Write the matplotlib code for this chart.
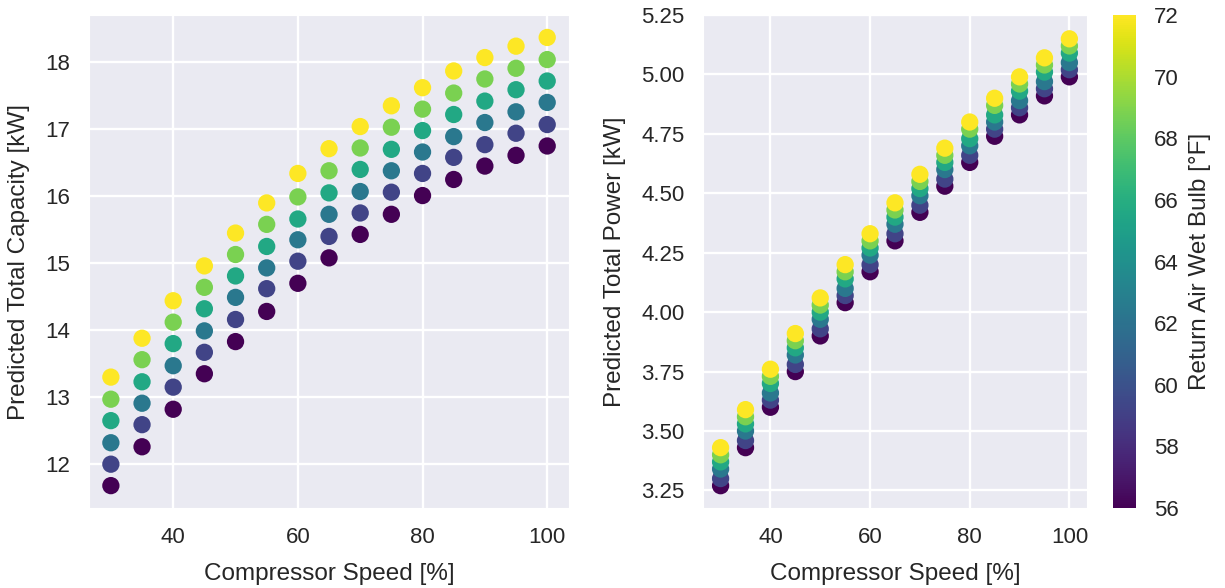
import numpy as np
import matplotlib
matplotlib.use("Agg")
import matplotlib.pyplot as plt
import seaborn as sns

# compressor speed [%]
speed = [30, 35, 40, 45, 50, 55, 60, 65, 70, 75, 80, 85, 90, 95, 100]
# return air wet bulb levels [F]
wet_bulb = [56, 59.2, 62.4, 65.6, 68.8, 72]

# predicted total capacity [kW], one row per wet bulb level
capacity = [
    [11.68, 12.26, 12.82, 13.35, 13.83, 14.28, 14.70, 15.08, 15.43, 15.73, 16.01, 16.25, 16.45, 16.61, 16.75],
    [12.00, 12.59, 13.15, 13.67, 14.16, 14.62, 15.03, 15.40, 15.75, 16.06, 16.34, 16.58, 16.77, 16.94, 17.07],
    [12.32, 12.91, 13.47, 13.99, 14.49, 14.93, 15.35, 15.73, 16.07, 16.38, 16.66, 16.89, 17.10, 17.26, 17.40],
    [12.65, 13.23, 13.80, 14.32, 14.81, 15.25, 15.66, 16.05, 16.40, 16.70, 16.98, 17.22, 17.42, 17.59, 17.72],
    [12.97, 13.56, 14.12, 14.64, 15.13, 15.58, 15.99, 16.38, 16.72, 17.03, 17.30, 17.54, 17.75, 17.91, 18.04],
    [13.30, 13.88, 14.44, 14.96, 15.45, 15.90, 16.34, 16.71, 17.04, 17.35, 17.62, 17.87, 18.07, 18.24, 18.37],
]

# predicted total power [kW]
power = [
    [3.27, 3.43, 3.60, 3.75, 3.90, 4.04, 4.17, 4.30, 4.42, 4.53, 4.63, 4.74, 4.83, 4.91, 4.99],
    [3.30, 3.46, 3.63, 3.78, 3.93, 4.07, 4.20, 4.33, 4.45, 4.56, 4.66, 4.77, 4.86, 4.94, 5.02],
    [3.34, 3.50, 3.66, 3.82, 3.97, 4.10, 4.24, 4.37, 4.49, 4.60, 4.70, 4.80, 4.89, 4.97, 5.05],
    [3.37, 3.53, 3.70, 3.85, 4.00, 4.14, 4.27, 4.40, 4.52, 4.63, 4.73, 4.83, 4.93, 5.01, 5.09],
    [3.40, 3.56, 3.73, 3.88, 4.03, 4.17, 4.30, 4.43, 4.55, 4.66, 4.77, 4.87, 4.96, 5.04, 5.12],
    [3.43, 3.59, 3.76, 3.91, 4.06, 4.20, 4.33, 4.46, 4.58, 4.69, 4.80, 4.90, 4.99, 5.07, 5.15],
]

sns.set_style("darkgrid")
plt.rcParams['font.family'] = ['Liberation Sans', 'DejaVu Sans']
plt.rcParams['grid.linewidth'] = 1.7
txt = '#262626'

fig = plt.figure(figsize=(12.25, 5.88), dpi=100)
ax1 = fig.add_axes([0.0727, 0.136, 0.3918, 0.8384])
ax2 = fig.add_axes([0.574, 0.136, 0.3132, 0.8384])
cax = fig.add_axes([0.9085, 0.136, 0.0185, 0.8384])

for ax, vals in [(ax1, capacity), (ax2, power)]:
    for wb, row in zip(wet_bulb, vals):
        sc = ax.scatter(speed, row, c=[wb] * len(speed), cmap='viridis',
                        vmin=56, vmax=72, s=155, edgecolors='none', zorder=3)
    ax.set_xlabel('Compressor Speed [%]', fontsize=17.5, color=txt, labelpad=11)
    ax.tick_params(labelsize=16, colors=txt, pad=10)
    ax.set_xticks([40, 60, 80, 100])

ax1.set_ylabel('Predicted Total Capacity [kW]', fontsize=17.5, color=txt, labelpad=11)
ax2.set_ylabel('Predicted Total Power [kW]', fontsize=17.5, color=txt, labelpad=11)
ax2.set_yticks([3.25, 3.5, 3.75, 4.0, 4.25, 4.5, 4.75, 5.0, 5.25])
ax2.set_yticklabels(['%.2f' % v for v in ax2.get_yticks()])

cb = fig.colorbar(sc, cax=cax)
cb.outline.set_visible(False)
cb.set_ticks([56, 58, 60, 62, 64, 66, 68, 70, 72])
cb.ax.tick_params(labelsize=16, colors=txt, length=0, pad=13)
cb.set_label('Return Air Wet Bulb [°F]', fontsize=17.5, color=txt, labelpad=8)

fig.savefig('out.png', dpi=100)
